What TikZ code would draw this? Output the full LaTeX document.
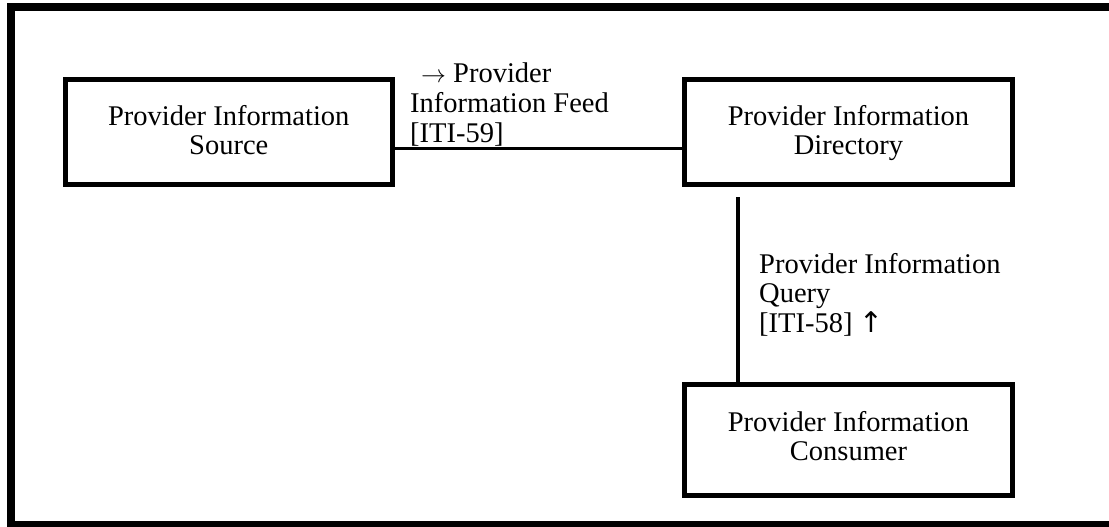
\documentclass[tikz,border=0pt]{standalone}
\usepackage{fontspec}
\setmainfont{Liberation Serif}
\newfontfamily\arrowfont{DejaVu Sans}
\newcommand\topstrut[1]{\rule[-8.7pt]{0pt}{#1}}
\newcommand\botstrut{\rule[-8.7pt]{0pt}{20pt}}
\begin{document}
\begin{tikzpicture}[x=1pt,y=-1pt,
  actor/.style={draw, line width=5pt, inner sep=0pt, align=center,
    font=\fontsize{28.5}{29}\selectfont},
  lbl/.style={inner sep=0pt, align=left, anchor=base west,
    font=\fontsize{28.5}{29.5}\selectfont},
  link/.style={line width=3pt}]
\useasboundingbox (0,0) rectangle (1109,527);
\clip (0,0) rectangle (1109,527);
\draw[line width=8pt] (11,7) rectangle (1130,525);
\node[actor, minimum width=327.5pt, minimum height=105pt] (src) at (228.75,132) {\topstrut{33.7pt}Provider Information\\Source\botstrut};
\node[actor, minimum width=328pt, minimum height=105pt] (dir) at (848.5,132) {\topstrut{33.7pt}Provider Information\\Directory\botstrut};
\node[actor, minimum width=328pt, minimum height=111pt] (con) at (848.5,440) {\topstrut{23.7pt}Provider Information\\Consumer\botstrut};
\draw[link] ([yshift=-16pt]src.east) -- ([yshift=-16pt]dir.west);
\draw[line width=4pt] ([xshift=-110.5pt,yshift=-10pt]dir.south) -- ([xshift=-110.5pt]con.north);
\node[lbl] (feed) at (410,142) {\hspace{11pt}$\rightarrow$ Provider\\Information Feed\\{[ITI-59]}};
\node[lbl] (query) at (759,332) {Provider Information\\Query\\{[ITI-58]} {\arrowfont ↑}};
\end{tikzpicture}
\end{document}
